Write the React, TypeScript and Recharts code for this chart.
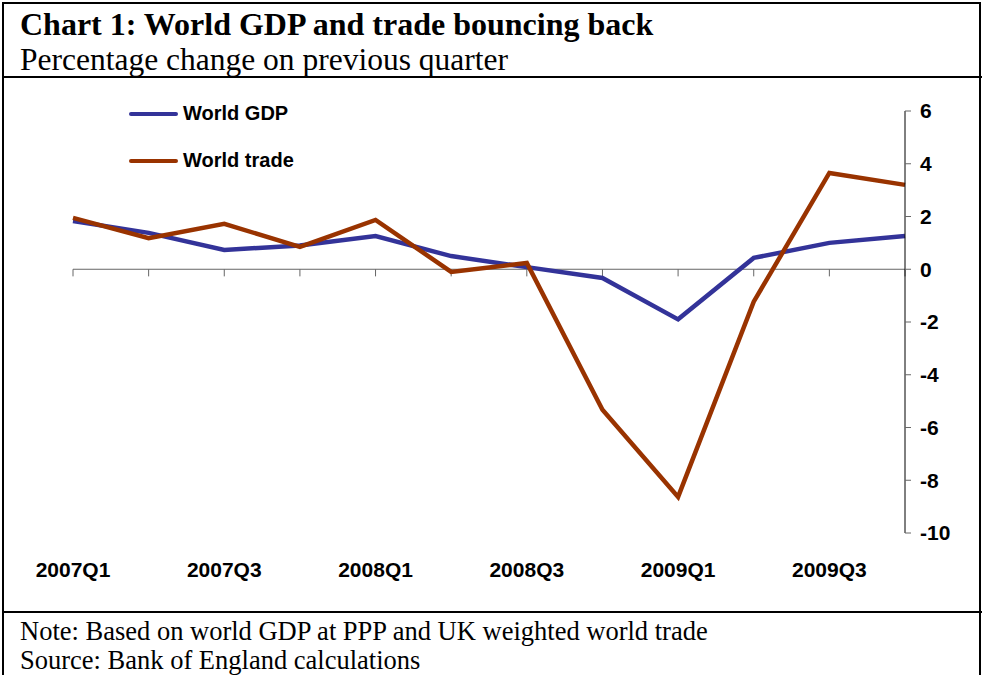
import { Line, LineChart, ReferenceLine, XAxis, YAxis } from "recharts";

const quarters = [
  "2007Q1", "2007Q2", "2007Q3", "2007Q4",
  "2008Q1", "2008Q2", "2008Q3", "2008Q4",
  "2009Q1", "2009Q2", "2009Q3", "2009Q4",
];
const worldGdp = [1.83, 1.38, 0.73, 0.9, 1.26, 0.5, 0.08, -0.33, -1.9, 0.43, 1.0, 1.26];
const worldTrade = [1.95, 1.18, 1.72, 0.85, 1.87, -0.1, 0.24, -5.33, -8.63, -1.23, 3.65, 3.2];
const yTicks = [-10, -8, -6, -4, -2, 0, 2, 4, 6];

const data = quarters.map((q, i) => ({ quarter: q, gdp: worldGdp[i], trade: worldTrade[i] }));

const serif = "'Liberation Serif', 'Times New Roman', serif";
const sans = "'Liberation Sans', Arial, sans-serif";

const legendItems = [
  { label: "World GDP", color: "#333399" },
  { label: "World trade", color: "#993300" },
];

function ChartLegend() {
  return (
    <div style={{ position: "absolute", left: 129, top: 90 }}>
      {legendItems.map((item) => (
        <div key={item.label} style={{ display: "flex", alignItems: "center", height: 47 }}>
          <div style={{ width: 49, height: 4, background: item.color, borderRadius: 2 }} />
          <span style={{ marginLeft: 5, fontFamily: sans, fontWeight: 700, fontSize: 20, color: "#000" }}>
            {item.label}
          </span>
        </div>
      ))}
    </div>
  );
}

export default function App() {
  return (
    <div style={{ position: "absolute", left: 0, top: 0, width: 984, height: 675, background: "#fff", overflow: "hidden" }}>
      <div
        style={{
          position: "absolute", left: 2, top: 2, width: 979, height: 700,
          border: "2px solid #000", boxSizing: "border-box",
        }}
      />
      <div style={{ position: "absolute", left: 2, top: 76, width: 980, height: 2, background: "#000" }} />
      <div style={{ position: "absolute", left: 2, top: 611, width: 980, height: 2, background: "#000" }} />
      <div style={{ position: "absolute", left: 20, top: 6, fontFamily: serif, fontWeight: 700, fontSize: 32, whiteSpace: "nowrap" }}>
        Chart 1: World GDP and trade bouncing back
      </div>
      <div style={{ position: "absolute", left: 20, top: 42, fontFamily: serif, fontSize: 31.5, whiteSpace: "nowrap" }}>
        Percentage change on previous quarter
      </div>
      <div style={{ position: "absolute", left: 20, top: 616, fontFamily: serif, fontSize: 26.5, whiteSpace: "nowrap" }}>
        Note: Based on world GDP at PPP and UK weighted world trade
      </div>
      <div style={{ position: "absolute", left: 20, top: 645, fontFamily: serif, fontSize: 26.5, whiteSpace: "nowrap" }}>
        Source: Bank of England calculations
      </div>
      <div style={{ position: "absolute", left: 0, top: 0 }}>
        <LineChart width={984} height={675} data={data} margin={{ top: 111, right: 19, bottom: 112, left: 73 }}>
          <XAxis
            dataKey="quarter"
            interval={1}
            axisLine={false}
            tickLine={false}
            tickSize={0}
            tickMargin={29}
            height={30}
            tick={{ fill: "#000", fontFamily: sans, fontWeight: 700, fontSize: 21 }}
          />
          <YAxis
            orientation="right"
            domain={[-10, 6]}
            ticks={yTicks}
            interval={0}
            width={60}
            axisLine={{ stroke: "#000", strokeWidth: 1 }}
            tickLine={{ stroke: "#666", strokeWidth: 1 }}
            tickSize={6}
            tickMargin={9}
            tick={{ fill: "#000", fontFamily: sans, fontWeight: 700, fontSize: 21, textAnchor: "start" }}
          />
          <ReferenceLine y={0} stroke="#666" strokeWidth={1} />
          {quarters.map((q) => (
            <ReferenceLine
              key={q}
              segment={[{ x: q, y: 0 }, { x: q, y: -0.27 }]}
              stroke="#666"
              strokeWidth={1}
            />
          ))}
          <Line
            type="linear"
            dataKey="gdp"
            stroke="#333399"
            strokeWidth={4.5}
            dot={false}
            isAnimationActive={false}
          />
          <Line
            type="linear"
            dataKey="trade"
            stroke="#993300"
            strokeWidth={4.5}
            dot={false}
            isAnimationActive={false}
          />
        </LineChart>
      </div>
      <ChartLegend />
    </div>
  );
}
